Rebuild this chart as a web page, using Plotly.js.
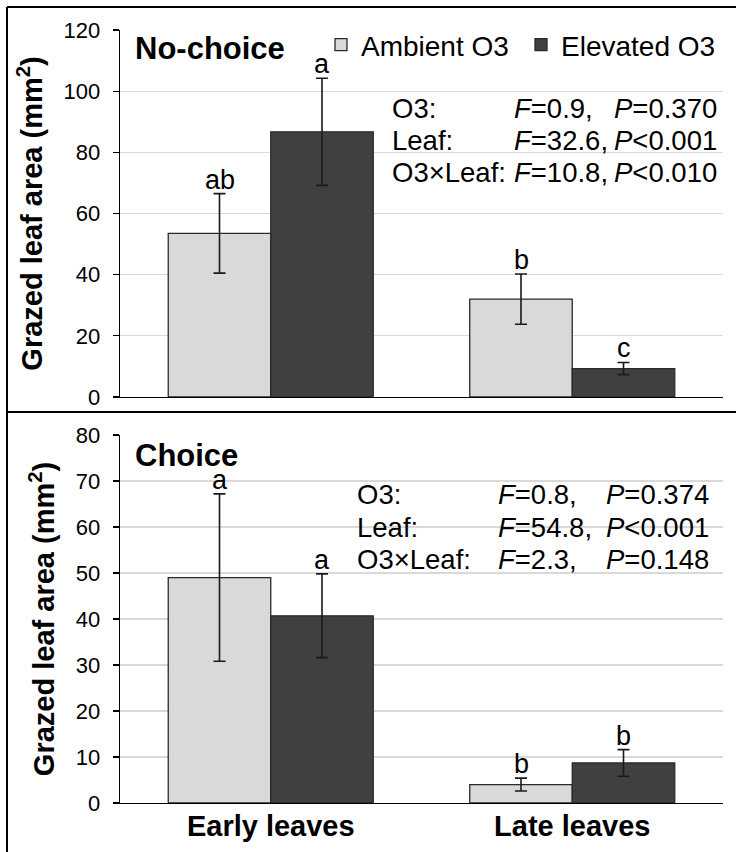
<!DOCTYPE html>
<html>
<head>
<meta charset="utf-8">
<script src="https://cdn.plot.ly/plotly-3.0.1.min.js"></script>
<style>html,body{margin:0;padding:0;background:#fff;}</style>
</head>
<body>
<div id="chart" style="width:736px;height:852px;"></div>
<script>
// ---- data ----
const categories = ["Early leaves", "Late leaves"];
const seriesNames = ["Ambient O3", "Elevated O3"];

// No-choice panel
const noChoiceAmbient = [53.5, 32.0];
const noChoiceAmbientErr = [13.0, 8.2];
const noChoiceElevated = [86.7, 9.3];
const noChoiceElevatedErr = [17.5, 2.0];
const noChoiceAmbientLetters = ["ab", "b"];
const noChoiceElevatedLetters = ["a", "c"];

// Choice panel
const choiceAmbient = [49.0, 4.0];
const choiceAmbientErr = [18.2, 1.4];
const choiceElevated = [40.7, 8.7];
const choiceElevatedErr = [9.1, 2.9];
const choiceAmbientLetters = ["a", "b"];
const choiceElevatedLetters = ["a", "b"];

// statistics text
const panelTitles = ["No-choice", "Choice"];
const statLabels = ["O3:", "Leaf:", "O3×Leaf:"];
const noChoiceF = ["0.9,", "32.6,", "10.8,"];
const noChoiceP = ["=0.370", "<0.001", "<0.010"];
const choiceF = ["0.8,", "54.8,", "2.3,"];
const choiceP = ["=0.374", "<0.001", "=0.148"];

const yTitle = "Grazed leaf area (mm<sup>2</sup>)";
const topTicks = [0, 20, 40, 60, 80, 100, 120];
const bottomTicks = [0, 10, 20, 30, 40, 50, 60, 70, 80];

// ---- style ----
const W = 736, H = 852;
const FONT = "Liberation Sans, Arial, sans-serif";
const ambientColor = "#d9d9d9";
const elevatedColor = "#404040";
const BARGAP = 0.32;
const px = v => v / W;
const py = v => 1 - v / H;

function barTrace(name, y, err, color, xa, ya, showlegend) {
  return {
    type: "bar", name: name, x: [0, 1], y: y,
    xaxis: xa, yaxis: ya, showlegend: showlegend, legendgroup: name,
    marker: {color: color, line: {color: "#2a2a2a", width: 1.3}},
    error_y: {type: "data", array: err, visible: true, color: "#1a1a1a", thickness: 1.6, width: 6},
    hoverinfo: "skip"
  };
}

const data = [
  barTrace(seriesNames[0], noChoiceAmbient, noChoiceAmbientErr, ambientColor, "x", "y", true),
  barTrace(seriesNames[1], noChoiceElevated, noChoiceElevatedErr, elevatedColor, "x", "y", true),
  barTrace(seriesNames[0], choiceAmbient, choiceAmbientErr, ambientColor, "x2", "y2", false),
  barTrace(seriesNames[1], choiceElevated, choiceElevatedErr, elevatedColor, "x2", "y2", false)
];

const annotations = [];
const half = (1 - BARGAP) / 4;
function letters(vals, errs, labs, offset, xref, yref) {
  labs.forEach((t, i) => {
    annotations.push({
      xref: xref, yref: yref, x: i + offset, y: vals[i] + errs[i],
      text: t, showarrow: false, yanchor: "bottom", xanchor: "center", yshift: -3,
      font: {family: FONT, size: 27, color: "#000"}
    });
  });
}
letters(noChoiceAmbient, noChoiceAmbientErr, noChoiceAmbientLetters, -half, "x", "y");
letters(noChoiceElevated, noChoiceElevatedErr, noChoiceElevatedLetters, half, "x", "y");
letters(choiceAmbient, choiceAmbientErr, choiceAmbientLetters, -half, "x2", "y2");
letters(choiceElevated, choiceElevatedErr, choiceElevatedLetters, half, "x2", "y2");

// panel titles
[[panelTitles[0], 48], [panelTitles[1], 456]].forEach(([t, yy]) => {
  annotations.push({xref: "paper", yref: "paper", x: px(133), y: py(yy), xanchor: "left", yanchor: "middle",
    text: "<b>" + t + "</b>", showarrow: false, font: {family: FONT, size: 31, color: "#000"}});
});

// stats blocks
function stats(Fs, Ps, cols, rows) {
  statLabels.forEach((lab, i) => {
    const f = {family: FONT, size: 27.5, color: "#000"};
    annotations.push({xref: "paper", yref: "paper", x: px(cols[0]), y: py(rows[i]), xanchor: "left", yanchor: "middle",
      text: lab, showarrow: false, font: f});
    annotations.push({xref: "paper", yref: "paper", x: px(cols[1]), y: py(rows[i]), xanchor: "left", yanchor: "middle",
      text: "<i>F</i>=" + Fs[i], showarrow: false, font: f});
    annotations.push({xref: "paper", yref: "paper", x: px(cols[2]), y: py(rows[i]), xanchor: "left", yanchor: "middle",
      text: "<i>P</i>" + Ps[i], showarrow: false, font: f});
  });
}
stats(noChoiceF, noChoiceP, [390, 512, 612], [108, 140, 172]);
stats(choiceF, choiceP, [355, 496, 604], [494, 527, 559]);

const tickFont = {family: FONT, size: 22, color: "#000"};
const yCommon = {
  showgrid: true, gridcolor: "#d9d9d9", gridwidth: 1.3,
  zeroline: false, showline: true, linecolor: "#000", linewidth: 1.3,
  ticks: "outside", ticklen: 6, tickcolor: "#000", tickwidth: 1.3,
  tickfont: tickFont, ticklabelstandoff: 8, automargin: false,
  title: {text: "<b>" + yTitle + "</b>", font: {family: FONT, size: 29, color: "#000"}, standoff: 12}
};
const xCommon = {
  type: "linear", range: [-0.5, 1.5], tickvals: [0, 1],
  ticktext: categories.map(c => "<b>" + c + "</b>"),
  showgrid: false, zeroline: false, showline: true, linecolor: "#000", linewidth: 1.3,
  ticks: "", automargin: false, fixedrange: true,
  domain: [px(120), px(723)]
};

const layout = {
  width: W, height: H,
  margin: {l: 0, r: 0, t: 0, b: 0},
  paper_bgcolor: "#fff", plot_bgcolor: "#fff",
  barmode: "group", bargap: BARGAP, bargroupgap: 0,
  font: {family: FONT, color: "#000"},
  showlegend: true,
  legend: {orientation: "h", x: px(321), y: py(45), xanchor: "left", yanchor: "middle",
    entrywidth: 155, entrywidthmode: "pixels",
    font: {family: FONT, size: 28, color: "#000"}, bgcolor: "rgba(0,0,0,0)", itemclick: false, traceorder: "normal"},
  xaxis: Object.assign({}, xCommon, {anchor: "y", showticklabels: false}),
  xaxis2: Object.assign({}, xCommon, {anchor: "y2", showticklabels: true, ticklabelstandoff: -3,
    tickfont: {family: FONT, size: 29, color: "#000"}}),
  yaxis: Object.assign({}, yCommon, {anchor: "x", domain: [py(397), py(30)], range: [0, 120], tickvals: topTicks}),
  yaxis2: Object.assign({}, yCommon, {anchor: "x2", domain: [py(803), py(435)], range: [0, 80], tickvals: bottomTicks}),
  annotations: annotations,
  shapes: [
    {type: "line", xref: "paper", yref: "paper", x0: px(7), x1: px(7), y0: 0, y1: py(7), line: {color: "#000", width: 2}},
    {type: "line", xref: "paper", yref: "paper", x0: px(7), x1: 1, y0: py(7), y1: py(7), line: {color: "#000", width: 2}},
    {type: "line", xref: "paper", yref: "paper", x0: px(7), x1: 1, y0: py(412), y1: py(412), line: {color: "#000", width: 2}}
  ]
};

Plotly.newPlot("chart", data, layout, {staticPlot: true, displayModeBar: false});
</script>
</body>
</html>
